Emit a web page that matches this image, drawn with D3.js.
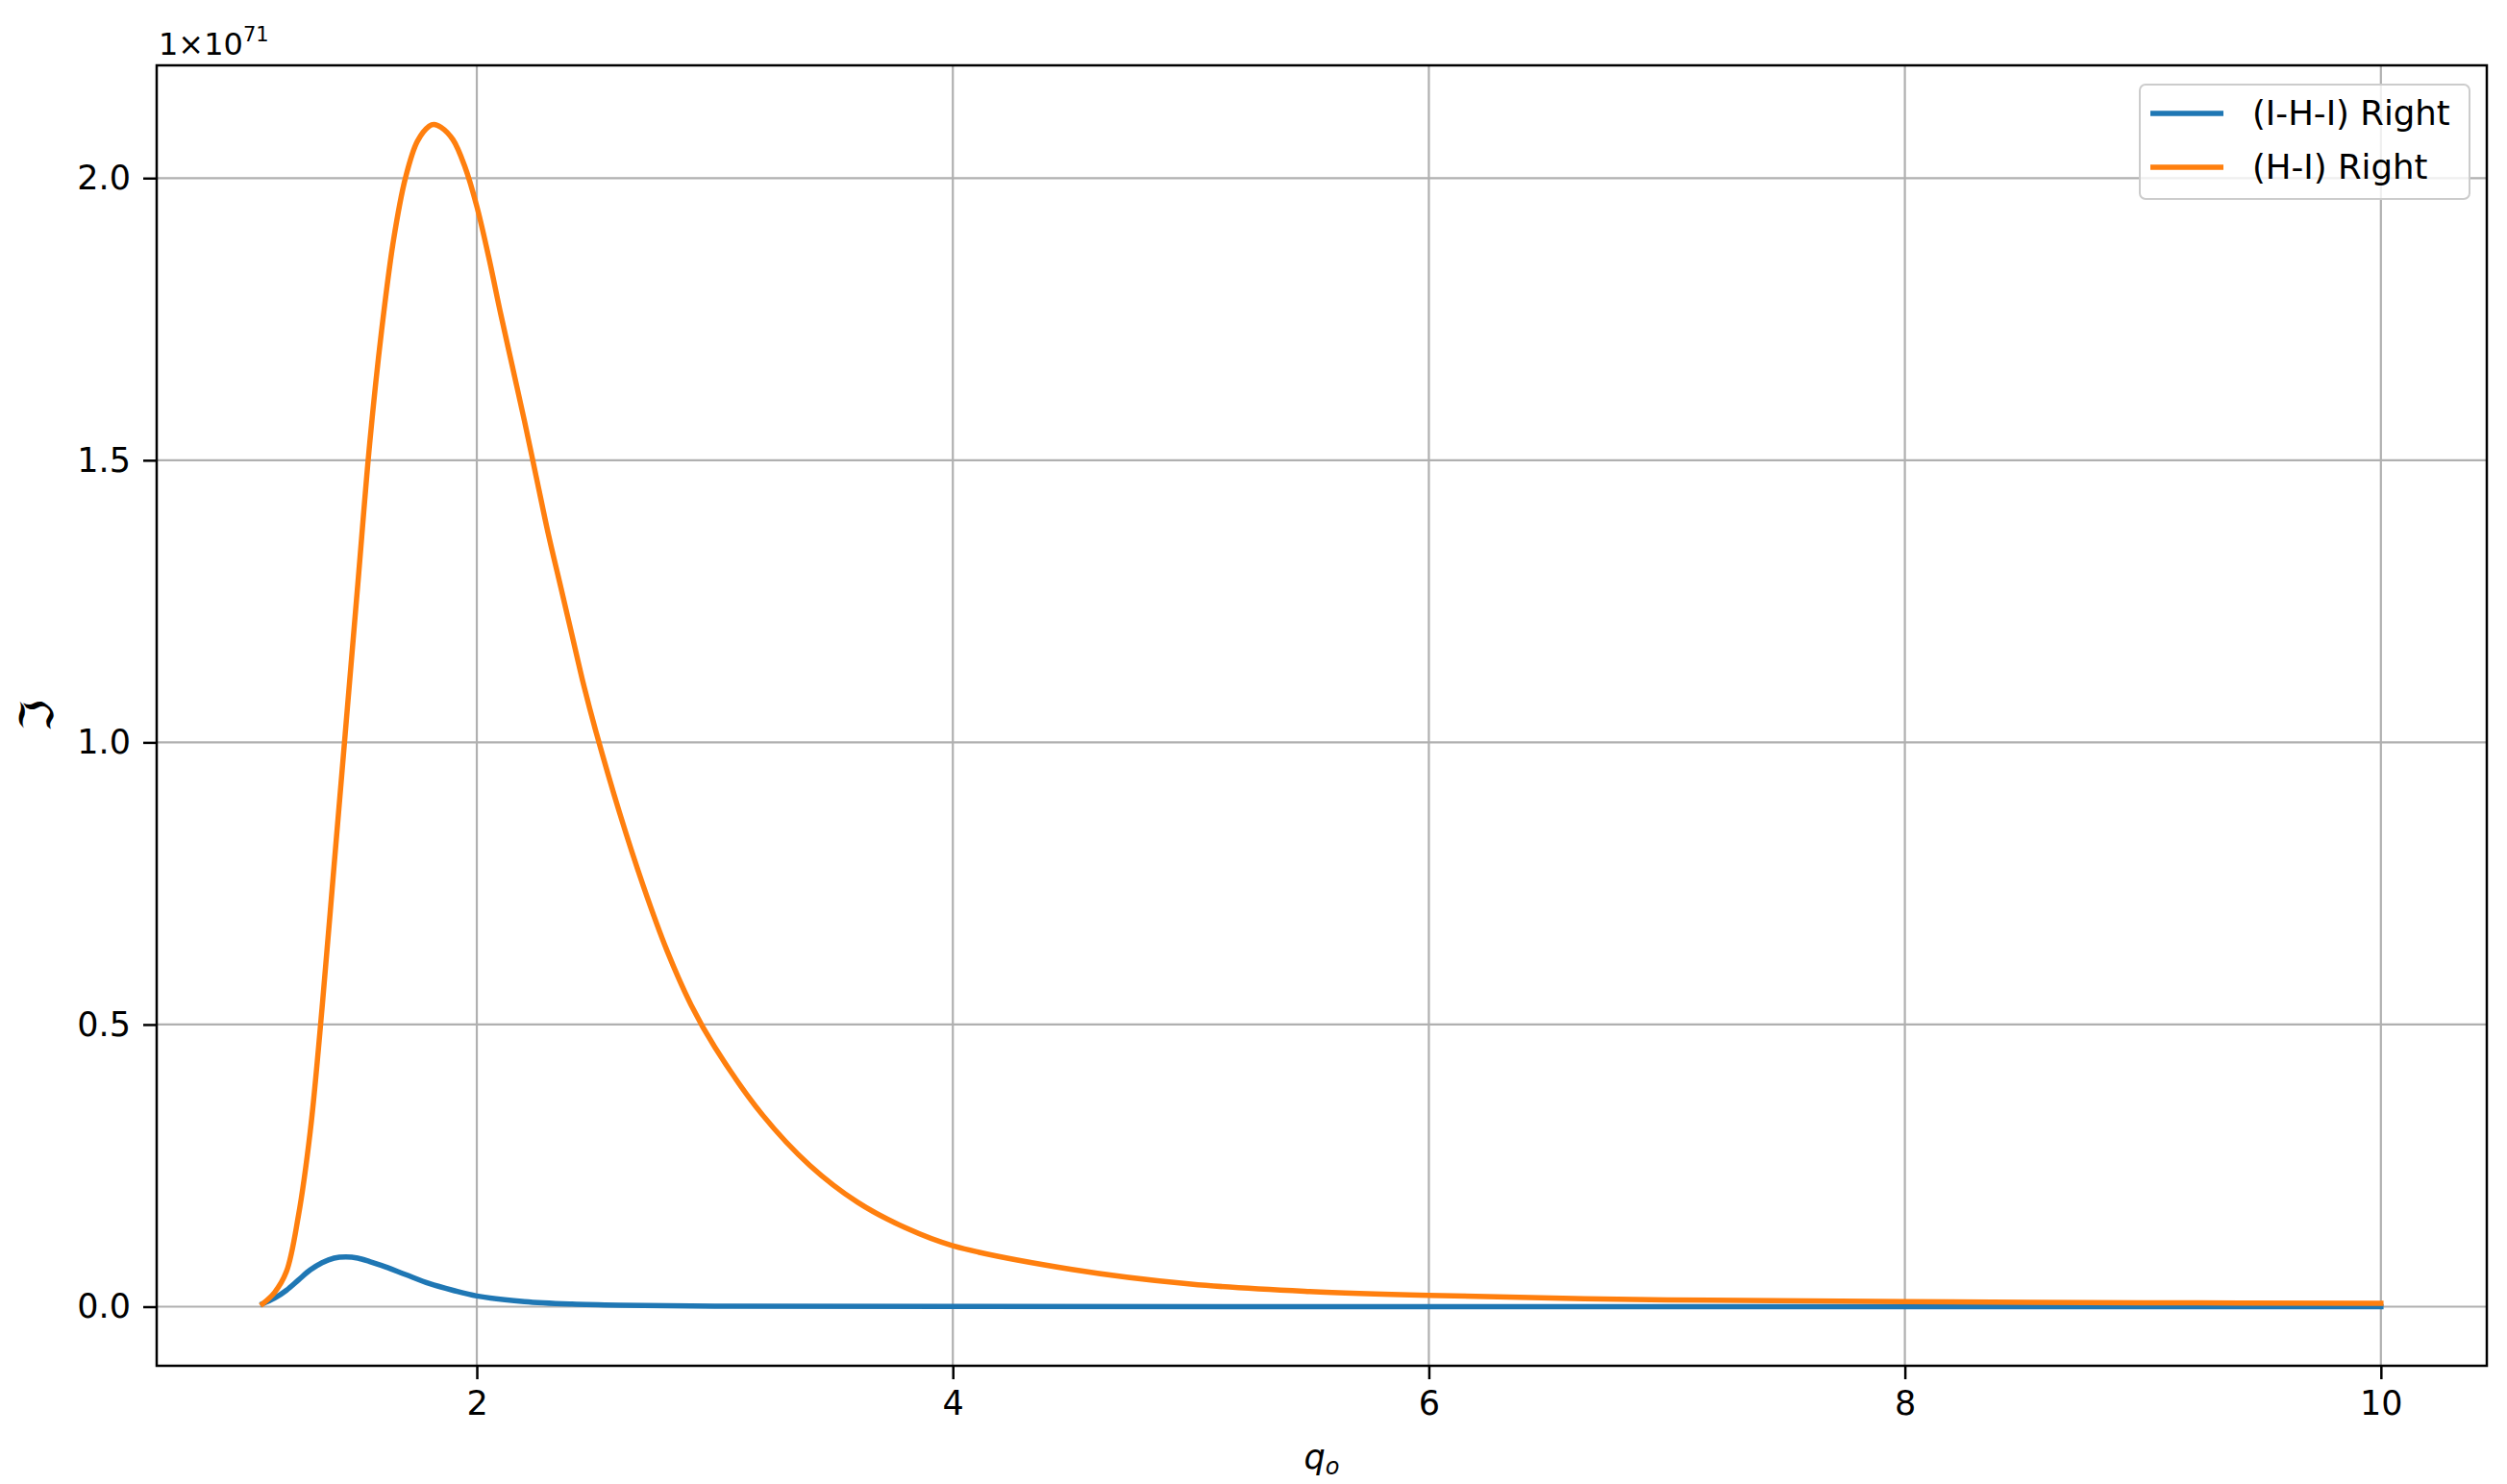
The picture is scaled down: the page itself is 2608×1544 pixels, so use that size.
<!DOCTYPE html>
<html>
<head>
<meta charset="utf-8">
<script src="https://cdn.jsdelivr.net/npm/d3@7"></script>
<style>
    body { margin: 0; background: #fff; }
    svg { display: block; font-family: "DejaVu Sans", sans-serif; }
</style>
</head>
<body>
<svg id="chart" width="2608" height="1544"></svg>
<script>
// values, y in units of 1e71
const qBlue = [1.10, 1.15, 1.20, 1.25, 1.30, 1.35, 1.40, 1.45, 1.50, 1.55, 1.60, 1.70, 1.80, 1.90, 2.0, 2.2, 2.4, 2.6, 3.0, 4.0, 6.0, 10.0];
const sBlue = [0.005, 0.015, 0.029, 0.047, 0.065, 0.078, 0.086, 0.088, 0.086, 0.080, 0.073, 0.057, 0.041, 0.029, 0.019, 0.009, 0.0045, 0.0025, 0.001, 0.0003, 0.0001, 0.0];

const qOrange = [1.10, 1.15, 1.20, 1.25, 1.30, 1.35, 1.40, 1.45, 1.50, 1.55, 1.60, 1.65, 1.70, 1.75, 1.80, 1.82,
    1.85, 1.90, 1.95, 2.00, 2.05, 2.10, 2.15, 2.20, 2.25, 2.30, 2.35, 2.40, 2.45, 2.50, 2.60, 2.70, 2.80, 2.90,
    3.0, 3.2, 3.4, 3.6, 3.8, 4.0, 4.5, 5.0, 5.5, 6.0, 7.0, 8.0, 9.0, 10.0];
const sOrange = [0.005, 0.025, 0.062, 0.16, 0.31, 0.53, 0.78, 1.03, 1.28, 1.53, 1.73, 1.89, 2.00, 2.065, 2.092, 2.095,
    2.09, 2.068, 2.02, 1.95, 1.86, 1.76, 1.665, 1.57, 1.47, 1.37, 1.28, 1.19, 1.10, 1.02, 0.875, 0.745, 0.63, 0.535,
    0.46, 0.340, 0.250, 0.185, 0.140, 0.108, 0.066, 0.040, 0.027, 0.020, 0.012, 0.009, 0.007, 0.006];

const seriesNames = ["(I-H-I) Right", "(H-I) Right"];
const seriesColors = ["#1f77b4", "#ff7f0e"];
const xTicks = [2, 4, 6, 8, 10];
const yTicks = [0.0, 0.5, 1.0, 1.5, 2.0];

const series = [
    { name: seriesNames[0], color: seriesColors[0], q: qBlue, s: sBlue },
    { name: seriesNames[1], color: seriesColors[1], q: qOrange, s: sOrange }
];

let svg = d3.select("#chart");
const plot = { left: 163, top: 68, right: 2587, bottom: 1421 };
const fontSize = 35;

// 5% padding like matplotlib autoscale
let allQ = qBlue.concat(qOrange), allS = sBlue.concat(sOrange);
let [qMin, qMax] = d3.extent(allQ), [sMin, sMax] = d3.extent(allS);
let qPad = (qMax - qMin) * 0.05, sPad = (sMax - sMin) * 0.05;

const x = d3.scaleLinear().domain([qMin - qPad, qMax + qPad]).range([plot.left, plot.right]);
const y = d3.scaleLinear().domain([sMin - sPad, sMax + sPad]).range([plot.bottom, plot.top]);

// grid
let grid = svg.append("g");
grid.selectAll(".gx").data(xTicks).enter().append("line")
    .attr("x1", d => x(d)).attr("x2", d => x(d))
    .attr("y1", plot.top).attr("y2", plot.bottom)
    .attr("stroke", "#b0b0b0").attr("stroke-width", 2.2);
grid.selectAll(".gy").data(yTicks).enter().append("line")
    .attr("x1", plot.left).attr("x2", plot.right)
    .attr("y1", d => y(d)).attr("y2", d => y(d))
    .attr("stroke", "#b0b0b0").attr("stroke-width", 2.2);

// curves
const line = d3.line().x(d => x(d[0])).y(d => y(d[1])).curve(d3.curveCatmullRom.alpha(0.5));
svg.append("g").selectAll("path").data(series).enter().append("path")
    .attr("d", d => line(d.q.map((q, i) => [q, d.s[i]])))
    .attr("fill", "none")
    .attr("stroke", d => d.color)
    .attr("stroke-width", 5.5)
    .attr("stroke-linejoin", "round")
    .attr("stroke-linecap", "square");

// axes
let xAxis = svg.append("g")
    .attr("transform", `translate(0,${plot.bottom})`)
    .call(d3.axisBottom(x).tickValues(xTicks).tickFormat(d3.format("d")).tickSizeInner(14).tickSizeOuter(0).tickPadding(12));
let yAxis = svg.append("g")
    .attr("transform", `translate(${plot.left},0)`)
    .call(d3.axisLeft(y).tickValues(yTicks).tickFormat(d3.format(".1f")).tickSizeInner(14).tickSizeOuter(0).tickPadding(13));

[xAxis, yAxis].forEach(a => {
    a.select(".domain").remove();
    a.selectAll(".tick line").attr("stroke", "#000").attr("stroke-width", 2.5);
    a.selectAll(".tick text")
        .attr("fill", "#000")
        .style("font-family", "DejaVu Sans")
        .style("font-size", fontSize + "px");
});

// frame
svg.append("rect")
    .attr("x", plot.left).attr("y", plot.top)
    .attr("width", plot.right - plot.left).attr("height", plot.bottom - plot.top)
    .attr("fill", "none").attr("stroke", "#000").attr("stroke-width", 2.5);

// offset text
let offset = svg.append("text")
    .attr("x", 165).attr("y", 57)
    .style("font-size", "32px");
offset.append("tspan").text("1×10");
offset.append("tspan").attr("dy", -14).style("font-size", "21px").text("71");

// axis labels
svg.append("text")
    .attr("x", (plot.left + plot.right) / 2).attr("y", 1528)
    .attr("text-anchor", "middle")
    .style("font-size", fontSize + "px")
    .style("font-style", "italic")
    .call(t => {
        t.append("tspan").text("q");
        t.append("tspan").attr("dy", 6).style("font-size", "24px").text("o");
    });

svg.append("text")
    .attr("transform", `translate(55,${(plot.top + plot.bottom) / 2}) rotate(-90)`)
    .attr("text-anchor", "middle")
    .style("font-size", "48px")
    .text("ℑ");

// legend
let legend = svg.append("g");
legend.append("rect")
    .attr("x", 2226).attr("y", 88).attr("width", 343).attr("height", 119)
    .attr("rx", 6)
    .attr("fill", "#fff").attr("fill-opacity", 0.8)
    .attr("stroke", "#cccccc").attr("stroke-width", 2);

let items = legend.selectAll(".item").data(series).enter().append("g")
    .attr("transform", (d, i) => `translate(0,${118 + i * 56})`);
items.append("line")
    .attr("x1", 2237).attr("x2", 2313)
    .attr("stroke", d => d.color).attr("stroke-width", 5.5);
items.append("text")
    .attr("x", 2343).attr("y", 12)
    .style("font-size", "35.5px")
    .text(d => d.name);
</script>
</body>
</html>
